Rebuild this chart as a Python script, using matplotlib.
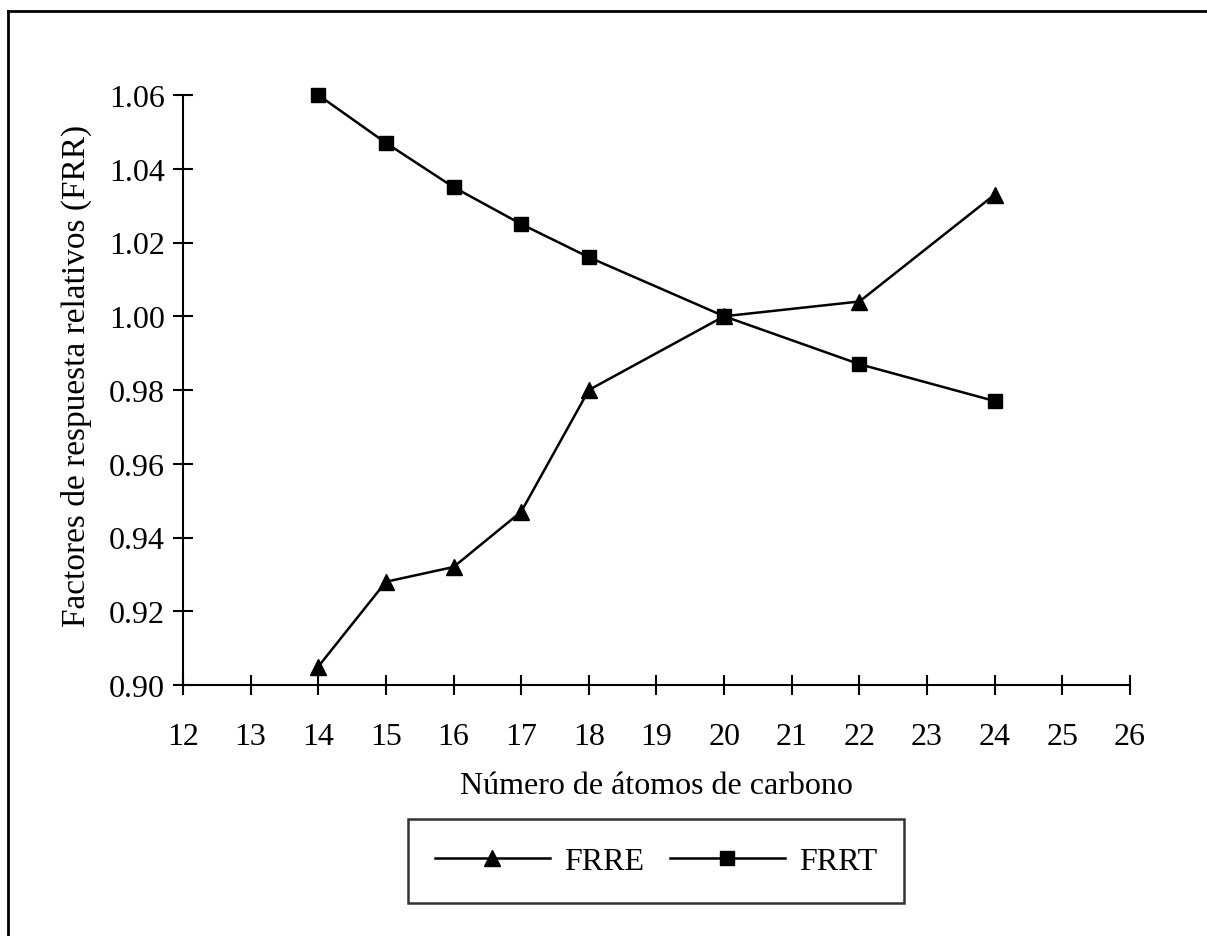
import matplotlib
matplotlib.use("Agg")
import matplotlib.pyplot as plt
from matplotlib.lines import Line2D

carbons_frre = [14, 15, 16, 17, 18, 20, 22, 24]
frre = [0.905, 0.928, 0.932, 0.947, 0.980, 1.000, 1.004, 1.033]
carbons_frrt = [14, 15, 16, 17, 18, 20, 22, 24]
frrt = [1.060, 1.047, 1.035, 1.025, 1.016, 1.000, 0.987, 0.977]
x_ticks = list(range(12, 27))
y_ticks = [0.90, 0.92, 0.94, 0.96, 0.98, 1.00, 1.02, 1.04, 1.06]

plt.rcParams['font.family'] = ['Liberation Serif', 'DejaVu Serif']

fig = plt.figure(figsize=(12.07, 9.37), dpi=100)
ax = fig.add_axes([183/1207, 1-686/937, (1130-183)/1207, (686-96)/937])

ax.plot(carbons_frre, frre, color='black', lw=1.8, marker='^', ms=12, label='FRRE', clip_on=False)
ax.plot(carbons_frrt, frrt, color='black', lw=1.8, marker='s', ms=10.5, label='FRRT', clip_on=False)

ax.set_xlim(12, 26)
ax.set_ylim(0.90, 1.06)
ax.set_xticks(x_ticks)
ax.set_yticks(y_ticks)
ax.set_yticklabels([f"{v:.2f}" for v in y_ticks])
ax.spines['top'].set_visible(False)
ax.spines['right'].set_visible(False)
for s in ('left', 'bottom'):
    ax.spines[s].set_linewidth(1.5)
ax.tick_params(direction='inout', length=14, width=1.5, labelsize=23)
ax.tick_params(axis='x', pad=20)
ax.tick_params(axis='y', pad=6)
ax.set_xlabel('Número de átomos de carbono', fontsize=23, labelpad=14)
ax.set_ylabel('Factores de respuesta relativos (FRR)', fontsize=24)
ax.yaxis.set_label_coords(-(183 - 92) / 947, (686 - 376) / 590)

leg = ax.legend(loc='center', bbox_to_anchor=(656/1207, 1-862/937), bbox_transform=fig.transFigure,
                ncol=2, fontsize=23, frameon=True, fancybox=False, handlelength=3.6,
                columnspacing=0.8, borderpad=0.85, handletextpad=0.45)
leg.get_frame().set_edgecolor('black')
leg.get_frame().set_linewidth(1.8)

# outer frame of the scanned figure
fig.add_artist(Line2D([8/1207, 8/1207], [0, 1-12/937], transform=fig.transFigure, color='black', lw=2))
fig.add_artist(Line2D([8/1207, 1], [1-12/937, 1-12/937], transform=fig.transFigure, color='black', lw=2))

fig.savefig('out.png', dpi=100)
